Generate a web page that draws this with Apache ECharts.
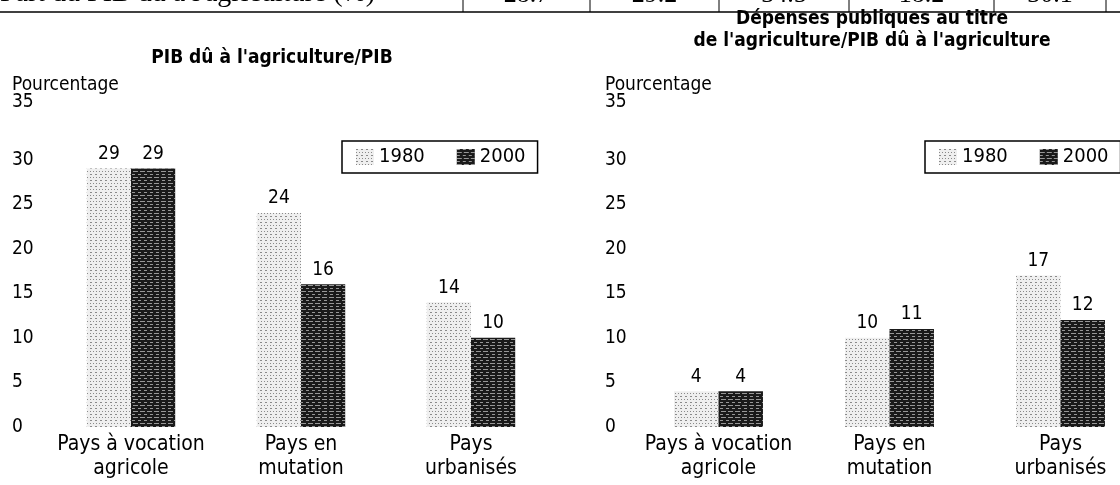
<!DOCTYPE html>
<html>
<head>
<meta charset="utf-8">
<script src="https://cdn.jsdelivr.net/npm/echarts@6/dist/echarts.min.js"></script>
<style>
html,body{margin:0;padding:0;background:#fff;}
#chart{width:1120px;height:485px;}
</style>
</head>
<body>
<div id="chart"></div>
<script>
// ---- data ----
const categories = ['Pays à vocation\nagricole', 'Pays en\nmutation', 'Pays\nurbanisés'];
const years = ['1980', '2000'];
const pibAgri1980 = [29, 24, 14];
const pibAgri2000 = [29, 16, 10];
const depAgri1980 = [4, 10, 17];
const depAgri2000 = [4, 11, 12];
const yTicks = [0, 5, 10, 15, 20, 25, 30, 35];
const tableRowLabel = "Part du PIB dû à l'agriculture (%)";
const tableRowValues = ['28.7', '29.2', '34.5', '18.2', '30.1'];
const leftTitle = "PIB dû à l'agriculture/PIB";
const rightTitle = "Dépenses publiques au titre\nde l'agriculture/PIB dû à l'agriculture";
const yName = 'Pourcentage';

// ---- styles ----
const FONT = "'DejaVu Sans Condensed', 'Liberation Sans Narrow', 'Roboto', sans-serif";
const SERIF = "'Liberation Serif', 'DejaVu Serif', serif";
const style1980 = {
  color: '#efefef',
  decal: { symbol: 'rect', color: '#8a8a8a', symbolSize: 1, dashArrayX: [[1, 2], [2, 3]], dashArrayY: [1, 2], rotation: 0 }
};
const style2000 = {
  color: '#1a1a1a',
  decal: { symbol: 'rect', color: 'rgba(255,255,255,0.55)', symbolSize: 1, dashArrayX: [[5, 2], [3, 3]], dashArrayY: [1, 2], rotation: 0 }
};

const chart = echarts.init(document.getElementById('chart'), null, { renderer: 'canvas' });

const GRID_TOP = 115, GRID_H = 312;
const grids = [
  { left: 46, top: GRID_TOP, width: 510, height: GRID_H, outerBoundsMode: 'none', containLabel: false },
  { left: 633, top: GRID_TOP, width: 513, height: GRID_H, outerBoundsMode: 'none', containLabel: false }
];

function xAxis(i) {
  return {
    type: 'category', gridIndex: i, data: categories,
    axisLine: { show: false }, axisTick: { show: false },
    axisLabel: { color: '#000', fontFamily: FONT, fontSize: 21, lineHeight: 24, margin: 6, interval: 0 }
  };
}
function yAxis(i, margin) {
  return {
    type: 'value', gridIndex: i, min: yTicks[0], max: yTicks[yTicks.length - 1], interval: 5,
    axisLine: { show: false }, axisTick: { show: false }, splitLine: { show: false },
    axisLabel: {
      color: '#000', fontFamily: FONT, fontSize: 19, align: 'left', margin: margin,
      formatter: v => v === yTicks[yTicks.length - 1] ? '{top|' + v + '}' : String(v),
      rich: { top: { fontFamily: FONT, fontSize: 19, color: '#000', padding: [0, 0, 26, 0] } }
    }
  };
}
function barSeries(name, data, idx, st) {
  return {
    type: 'bar', name: name, data: data, xAxisIndex: idx, yAxisIndex: idx,
    barGap: '0%', barCategoryGap: '48%',
    itemStyle: st,
    label: { show: true, position: 'top', color: '#000', fontFamily: FONT, fontSize: 19, distance: 5 }
  };
}
function legend(left, top) {
  return {
    data: years, left: left, top: top, width: 260, orient: 'horizontal',
    icon: 'rect', itemWidth: 18, itemHeight: 16, itemGap: 32,
    borderColor: '#000', borderWidth: 1.5, borderRadius: 0, padding: [6, 12, 6, 14],
    textStyle: { color: '#000', fontFamily: FONT, fontSize: 20 }
  };
}

const lineX = [463, 590, 719, 849, 994, 1106];
const graphics = [
  { type: 'line', shape: { x1: 0, y1: 12, x2: 1120, y2: 12 }, style: { stroke: '#000', lineWidth: 1.5 } },
  { type: 'text', x: 0, y: 8, style: { text: tableRowLabel, font: '28px ' + SERIF, fill: '#000', textAlign: 'left', textVerticalAlign: 'bottom' } }
];
lineX.forEach(x => graphics.push({ type: 'line', shape: { x1: x, y1: 0, x2: x, y2: 12 }, style: { stroke: '#000', lineWidth: 1 } }));
tableRowValues.forEach((v, i) => graphics.push({
  type: 'text', x: (lineX[i] + lineX[i + 1]) / 2, y: 8,
  style: { text: v, font: '26px ' + SERIF, fill: '#000', textAlign: 'center', textVerticalAlign: 'bottom' }
}));

const option = {
  backgroundColor: '#fff',
  animation: false,
  title: [
    { text: leftTitle, left: 272, top: 49, padding: 0, textAlign: 'center', textStyle: { fontFamily: FONT, fontSize: 19, fontWeight: 'bold', color: '#000' } },
    { text: rightTitle, left: 872, top: 8, padding: 0, textAlign: 'center', textStyle: { fontFamily: FONT, fontSize: 19, fontWeight: 'bold', color: '#000', lineHeight: 22 } },
    { text: yName, left: 12, top: 76, padding: 0, textStyle: { fontFamily: FONT, fontSize: 19, fontWeight: 'normal', color: '#000' } },
    { text: yName, left: 605, top: 76, padding: 0, textStyle: { fontFamily: FONT, fontSize: 19, fontWeight: 'normal', color: '#000' } }
  ],
  legend: [legend(342, 141), legend(925, 141)],
  grid: grids,
  xAxis: [xAxis(0), xAxis(1)],
  yAxis: [yAxis(0, 34), yAxis(1, 28)],
  series: [
    barSeries(years[0], pibAgri1980, 0, style1980),
    barSeries(years[1], pibAgri2000, 0, style2000),
    barSeries(years[0], depAgri1980, 1, style1980),
    barSeries(years[1], depAgri2000, 1, style2000)
  ],
  graphic: graphics
};
chart.setOption(option);
</script>
</body>
</html>
